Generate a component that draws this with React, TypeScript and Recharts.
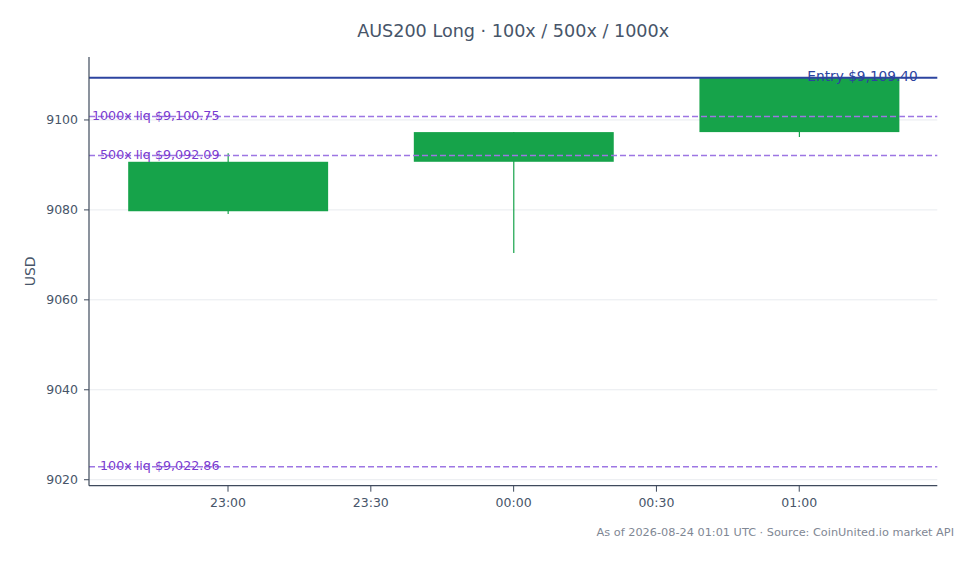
import React from 'react';
import { ComposedChart, Bar, XAxis, YAxis, CartesianGrid, ReferenceLine } from 'recharts';

const candleTimes = ['2026-08-23T23:00:00Z', '2026-08-24T00:00:00Z', '2026-08-24T01:00:00Z'];
const opens = [9079.7, 9090.7, 9097.3];
const highs = [9092.6, 9097.3, 9109.4];
const lows = [9079.1, 9070.4, 9096.2];
const closes = [9090.7, 9097.3, 9109.4];

const entryPrice = 9109.4;
const liqLevels = [
  { label: '1000x liq $9,100.75', value: 9100.75 },
  { label: '500x liq $9,092.09', value: 9092.09 },
  { label: '100x liq $9,022.86', value: 9022.86 },
];
const yTicks = [9020, 9040, 9060, 9080, 9100];
const xTickLabels = ['2026-08-23T23:00:00Z', '2026-08-23T23:30:00Z', '2026-08-24T00:00:00Z', '2026-08-24T00:30:00Z', '2026-08-24T01:00:00Z'];
const yDomain = [9018.67, 9114];

const FONT = '"DejaVu Sans", Verdana, sans-serif';
const GREEN = '#16a34a';
const AXIS = '#3f4a5c';
const TEXT = '#475569';
const PURPLE_LINE = '#9d76e3';
const PURPLE_TEXT = '#7a3acf';
const BLUE = '#2c44a0';

const times = candleTimes.map((s) => Date.parse(s));
const data = times.map((t, i) => ({
  t,
  open: opens[i],
  high: highs[i],
  low: lows[i],
  close: closes[i],
  range: [lows[i], highs[i]],
}));
const xTicks = xTickLabels.map((s) => Date.parse(s));
const MIN = 60000;
const xDomain = [times[0] - 29.2 * MIN, times[times.length - 1] + 29 * MIN];

const W = 978;
const H = 564;
const xAxisHeight = 30;
const margin = { top: 57, right: 40.7, bottom: 78.3 - xAxisHeight, left: 0 };
const yAxisWidth = 89;
const plotWidth = W - margin.left - margin.right - yAxisWidth;
const hourPx = plotWidth / ((xDomain[1] - xDomain[0]) / (60 * MIN));
const barSize = hourPx * 0.7;

const fmtTime = (v: number) => {
  const d = new Date(v);
  const h = String(d.getUTCHours()).padStart(2, '0');
  const m = String(d.getUTCMinutes()).padStart(2, '0');
  return `${h}:${m}`;
};

const Candle = (props: any) => {
  const { x, y, width, height, payload } = props;
  if (!payload) return null;
  const { open, close, high, low } = payload;
  const ppu = high - low === 0 ? 0 : height / (high - low);
  const top = Math.max(open, close);
  const bot = Math.min(open, close);
  const bodyY = y + (high - top) * ppu;
  const bodyH = Math.max(1, (top - bot) * ppu);
  const cx = x + width / 2;
  return (
    <g>
      <line x1={cx} x2={cx} y1={y} y2={y + height} stroke={GREEN} strokeWidth={1.2} />
      <rect x={x} y={bodyY} width={width} height={bodyH} fill={GREEN} />
    </g>
  );
};

const LiqLabel = (props: any) => {
  const { viewBox, text } = props;
  if (!viewBox) return null;
  return (
    <text x={viewBox.x + 130.5} y={viewBox.y - 1} textAnchor="end" dominantBaseline="central"
      fontFamily={FONT} fontSize={12.7} fill={PURPLE_TEXT}>
      {text}
    </text>
  );
};

const EntryLabel = (props: any) => {
  const { viewBox } = props;
  if (!viewBox) return null;
  return (
    <text x={viewBox.x + viewBox.width - 19.5} y={viewBox.y - 2} textAnchor="end" dominantBaseline="central"
      fontFamily={FONT} fontSize={13.7} fill={BLUE}>
      {`Entry $${entryPrice.toLocaleString('en-US', { minimumFractionDigits: 2 })}`}
    </text>
  );
};

const UsdLabel = (props: any) => {
  const { viewBox } = props;
  if (!viewBox) return null;
  const cx = viewBox.x + 30;
  const cy = viewBox.y + viewBox.height / 2;
  return (
    <text x={cx} y={cy} transform={`rotate(-90 ${cx} ${cy})`} textAnchor="middle" dominantBaseline="central"
      fontFamily={FONT} fontSize={14} fill={TEXT}>
      USD
    </text>
  );
};

export default function App() {
  return (
    <div style={{ position: 'relative', width: W, height: H, margin: -8, background: '#fff', fontFamily: FONT }}>
      <div style={{ position: 'absolute', left: yAxisWidth, width: plotWidth, top: 19, textAlign: 'center', fontSize: 17.6, color: TEXT, lineHeight: '24px', whiteSpace: 'nowrap' }}>
        AUS200 Long · 100x / 500x / 1000x
      </div>
      <ComposedChart width={W} height={H} data={data} margin={margin}>
        <CartesianGrid vertical={false} horizontalValues={yTicks} stroke="#e8ebef" strokeWidth={1} />
        <XAxis type="number" dataKey="t" domain={xDomain} ticks={xTicks} allowDataOverflow height={xAxisHeight}
          tickFormatter={fmtTime} stroke={AXIS} tickSize={6} tickMargin={6.5}
          tick={{ fill: TEXT, fontSize: 12.5, fontFamily: FONT }} axisLine={{ stroke: AXIS, strokeWidth: 1.2 }} />
        <YAxis type="number" domain={yDomain} ticks={yTicks} allowDataOverflow width={yAxisWidth}
          stroke={AXIS} tickSize={5} tickMargin={6}
          tick={{ fill: TEXT, fontSize: 12.5, fontFamily: FONT }} axisLine={{ stroke: AXIS, strokeWidth: 1.2 }}
          label={<UsdLabel />} />
        {liqLevels.map((l) => (
          <ReferenceLine key={l.label} y={l.value} stroke={PURPLE_LINE} strokeWidth={1.5} strokeDasharray="6 3"
            label={<LiqLabel text={l.label} />} />
        ))}
        <Bar dataKey="range" barSize={barSize} shape={<Candle />} isAnimationActive={false} />
        <ReferenceLine y={entryPrice} stroke={BLUE} strokeWidth={2} label={<EntryLabel />} />
      </ComposedChart>
      <div style={{ position: 'absolute', right: W - 954, top: 525, fontSize: 11.3, color: '#7f8794', whiteSpace: 'nowrap', lineHeight: '16px' }}>
        As of 2026-08-24 01:01 UTC · Source: CoinUnited.io market API
      </div>
    </div>
  );
}
